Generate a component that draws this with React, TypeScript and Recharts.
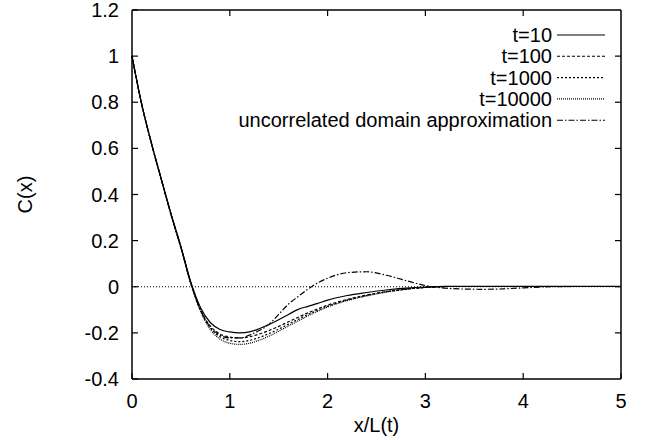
import React from 'react';
import { LineChart, Line, XAxis, YAxis, ReferenceLine, Legend } from 'recharts';

// x/L(t) sample positions and C(x)
const xs = [0, 0.1, 0.2, 0.3, 0.4, 0.5, 0.6, 0.7, 0.8, 0.9, 1.0, 1.1, 1.2, 1.3, 1.4, 1.5, 1.6, 1.7, 1.8, 1.9, 2.0, 2.2, 2.4, 2.6, 2.8, 3.0, 3.2, 3.4, 3.6, 3.8, 4.0, 4.2, 4.5, 5.0];
const t10 = [1, 0.79, 0.62, 0.465, 0.315, 0.175, 0.022, -0.09, -0.155, -0.185, -0.196, -0.2, -0.196, -0.182, -0.164, -0.143, -0.12, -0.098, -0.085, -0.072, -0.058, -0.038, -0.025, -0.014, -0.006, -0.001, 0.002, 0.002, 0.002, 0.002, 0.002, 0.002, 0.002, 0.002];
const t100 = [1, 0.79, 0.62, 0.465, 0.313, 0.172, 0.018, -0.1, -0.17, -0.205, -0.218, -0.222, -0.217, -0.205, -0.19, -0.172, -0.152, -0.132, -0.113, -0.096, -0.08, -0.055, -0.036, -0.021, -0.01, -0.003, 0.001, 0.001, 0.001, 0.001, 0.001, 0.001, 0.001, 0.001];
const t1000 = [1, 0.79, 0.62, 0.465, 0.312, 0.17, 0.016, -0.103, -0.178, -0.217, -0.233, -0.238, -0.233, -0.22, -0.203, -0.184, -0.162, -0.141, -0.12, -0.102, -0.085, -0.058, -0.038, -0.022, -0.011, -0.003, 0.001, 0.001, 0.001, 0.001, 0.001, 0.001, 0.001, 0.001];
const t10000 = [1, 0.79, 0.62, 0.465, 0.311, 0.168, 0.014, -0.105, -0.185, -0.227, -0.245, -0.25, -0.245, -0.232, -0.214, -0.193, -0.17, -0.148, -0.126, -0.106, -0.088, -0.06, -0.04, -0.023, -0.011, -0.003, 0.001, 0.001, 0.001, 0.001, 0.001, 0.001, 0.001, 0.001];
const uncorrelated = [1, 0.79, 0.62, 0.465, 0.312, 0.17, 0.02, -0.1, -0.175, -0.21, -0.222, -0.222, -0.21, -0.19, -0.163, -0.12, -0.075, -0.042, -0.01, 0.017, 0.037, 0.061, 0.065, 0.05, 0.027, 0.005, -0.006, -0.01, -0.011, -0.009, -0.005, -0.001, 0.001, 0.001];

const seriesNames = ['t=10', 't=100', 't=1000', 't=10000', 'uncorrelated domain approximation'];
const seriesKeys = ['t10', 't100', 't1000', 't10000', 'uncorrelated'];
const dashes = [undefined, '3 2', '2 2', '1 1', '6 2 1.5 2'];

const xTicks = [0, 1, 2, 3, 4, 5];
const yTicks = [-0.4, -0.2, 0, 0.2, 0.4, 0.6, 0.8, 1, 1.2];
const xMin = 0;
const xMax = 5;
const yMin = -0.4;
const yMax = 1.2;

const data = xs.map((x, i) => ({
  x,
  t10: t10[i],
  t100: t100[i],
  t1000: t1000[i],
  t10000: t10000[i],
  uncorrelated: uncorrelated[i],
}));

const W = 652;
const H = 440;
const FONT = '"Liberation Sans", Arial, Helvetica, sans-serif';
const FS = 20;

// plot box, follows from the chart margins and axis sizes below
const M = { top: 10, right: 31, bottom: 0, left: 0 };
const Y_AXIS_W = 132;
const X_AXIS_H = 61;
const PLOT_L = M.left + Y_AXIS_W;
const PLOT_R = W - M.right;
const PLOT_T = M.top;
const PLOT_B = H - M.bottom - X_AXIS_H;

const BottomTick = ({ x, y, payload }: any) => (
  <g>
    <line x1={x} y1={y} x2={x} y2={y - 6} stroke="#000" strokeWidth={1.2} />
    <text x={x} y={y + 22} dy="0.35em" textAnchor="middle" fontSize={FS} fontFamily={FONT} fill="#000">
      {payload.value}
    </text>
  </g>
);

const LeftTick = ({ x, y, payload }: any) => (
  <g>
    <line x1={x} y1={y} x2={x + 6} y2={y} stroke="#000" strokeWidth={1.2} />
    <text x={x - 13} y={y} dy="0.35em" textAnchor="end" fontSize={FS} fontFamily={FONT} fill="#000">
      {payload.value}
    </text>
  </g>
);

// legend plus the top / right sides of the frame with their inward ticks
const renderLegend = () => {
  const tx = (v: number) => PLOT_L + ((v - xMin) / (xMax - xMin)) * (PLOT_R - PLOT_L);
  const ty = (v: number) => PLOT_T + ((yMax - v) / (yMax - yMin)) * (PLOT_B - PLOT_T);
  return (
    <svg width={W} height={H} style={{ position: 'absolute', left: 0, top: 0, overflow: 'visible' }}>
      <line x1={PLOT_L} x2={PLOT_R} y1={PLOT_T} y2={PLOT_T} stroke="#000" strokeWidth={1.5} />
      <line x1={PLOT_R} x2={PLOT_R} y1={PLOT_T} y2={PLOT_B} stroke="#000" strokeWidth={1.5} />
      {xTicks.slice(1, -1).map((t) => (
        <line key={`tx${t}`} x1={tx(t)} x2={tx(t)} y1={PLOT_T} y2={PLOT_T + 6} stroke="#000" strokeWidth={1.2} />
      ))}
      {yTicks.slice(1, -1).map((v) => (
        <line key={`ty${v}`} x1={PLOT_R} x2={PLOT_R - 6} y1={ty(v)} y2={ty(v)} stroke="#000" strokeWidth={1.2} />
      ))}
      {seriesNames.map((name, i) => {
        const y = 35 + i * 21.3;
        return (
          <g key={name}>
            <text x={552} y={y} dy="0.35em" textAnchor="end" fontSize={FS} fontFamily={FONT} fill="#000">
              {name}
            </text>
            <line x1={557} x2={605} y1={y} y2={y} stroke="#000" strokeWidth={1.1} strokeDasharray={dashes[i]} />
          </g>
        );
      })}
    </svg>
  );
};

export default function App() {
  return (
    <div style={{ position: 'absolute', left: 0, top: 0, width: W, height: H }}>
      <LineChart width={W} height={H} data={data} margin={M}>
        <XAxis
          dataKey="x"
          type="number"
          domain={[xMin, xMax]}
          ticks={xTicks}
          height={X_AXIS_H}
          tickSize={0}
          tickMargin={0}
          tick={<BottomTick />}
          axisLine={{ stroke: '#000', strokeWidth: 1.5 }}
          label={({ viewBox }: any) => (
            <text x={viewBox.x + viewBox.width / 2} y={viewBox.y + 46} dy="0.35em" textAnchor="middle" fontSize={FS} fontFamily={FONT} fill="#000">
              x/L(t)
            </text>
          )}
        />
        <YAxis
          type="number"
          domain={[yMin, yMax]}
          ticks={yTicks}
          width={Y_AXIS_W}
          tickSize={0}
          tickMargin={0}
          tick={<LeftTick />}
          axisLine={{ stroke: '#000', strokeWidth: 1.5 }}
          label={({ viewBox }: any) => {
            const cx = viewBox.x + 25;
            const cy = viewBox.y + viewBox.height / 2;
            return (
              <text x={cx} y={cy} dy="0.35em" textAnchor="middle" fontSize={FS} fontFamily={FONT} fill="#000" transform={`rotate(-90 ${cx} ${cy})`}>
                C(x)
              </text>
            );
          }}
        />
        <ReferenceLine y={0} stroke="#000" strokeWidth={1} strokeDasharray="1 2" />
        {seriesKeys.map((k, i) => (
          <Line
            key={k}
            dataKey={k}
            name={seriesNames[i]}
            type="monotone"
            stroke="#000"
            strokeWidth={1.2}
            strokeDasharray={dashes[i]}
            dot={false}
            isAnimationActive={false}
          />
        ))}
        <Legend
          layout="vertical"
          align="center"
          verticalAlign="middle"
          content={renderLegend}
          wrapperStyle={{ left: 0, top: 0, width: W, height: H, pointerEvents: 'none' }}
        />
      </LineChart>
    </div>
  );
}
